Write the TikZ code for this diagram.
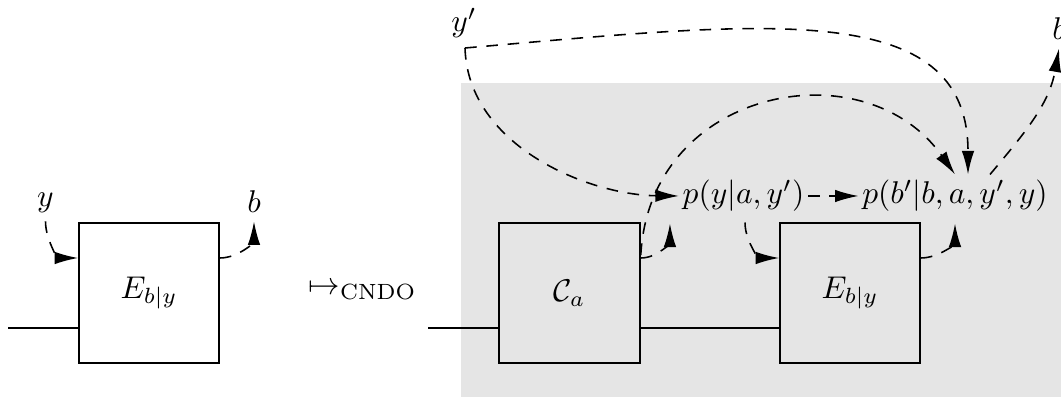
\documentclass[tikz,border=0pt]{standalone}
\usepackage{amsmath}
\usetikzlibrary{arrows.meta,calc}
\begin{document}
\begin{tikzpicture}[x=0.318pt,y=0.318pt,
  box/.style={draw,line width=0.5pt,minimum width={140*0.318pt},minimum height={140*0.318pt},inner sep=0pt},
  lab/.style={inner sep=2.5pt},
  expr/.style={inner sep=1pt},
  flow/.style={dash pattern=on 3.7pt off 3.1pt,line width=0.5pt,-{Latex[length=7.5pt,width=4pt]}},
  wire/.style={line width=0.5pt}]
\useasboundingbox (0,0) rectangle (1061,397);
\fill[gray!20] (461,0) rectangle (1061,314);
% left part
\node[box] (E1) at (149,104) {$E_{b|y}$};
\node[lab] (y) at (45.5,194) {$y$};
\node[lab] (b1) at (254,195) {$b$};
\coordinate (w0) at (8,69);
\draw[wire] (w0) -- (w0 -| E1.west);
\draw[flow] (y.south) to[out=-90,in=180] ($(E1.west)+(0,35)$);
\draw[flow] ($(E1.east)+(0,35)$) to[out=0,in=-90] (b1.south);
\node[anchor=base west,inner sep=0pt] (map) at (308,102) {$\mapsto_{\mathrm{CNDO}}$};
% right part
\node[box,minimum width={141*0.318pt}] (Ca) at (569.5,104) {$\mathcal{C}_a$};
\node[box] (E2) at (850,104) {$E_{b|y}$};
\coordinate (w1) at (428,69);
\draw[wire] (w1) -- (w1 -| Ca.west);
\draw[wire] (w1 -| Ca.east) -- (w1 -| E2.west);
\node[expr] (py) at (743.5,201) {$p(y|a,y')$};
\node[expr] (pb) at (955,201) {$p(b'|b,a,y',y)$};
\node[lab,anchor=base] (yp) at (464,365) {$y'$};
\node[lab] (b2) at (1059,368) {$b$};
\coordinate (c0) at (465,349);
\draw[flow] (py.east) -- (pb.west);
\draw[flow] (c0) .. controls (765,375) and (968,400) .. ($(pb.north)+(13,2)$);
\draw[flow] (c0) .. controls (468,250) and (590,202) .. (py.west);
\draw[flow] ($(Ca.east)+(0,35)$) to[out=0,in=-90] ($(py.south west)+(-9,-8)$);
\draw[flow] ($(Ca.east)+(0,38)$) .. controls (650,310) and (865,350) .. ($(pb.north)+(0,2)$);
\draw[flow] ($(py.south)+(1.5,-7)$) to[out=-90,in=180] ($(E2.west)+(0,35)$);
\draw[flow] ($(E2.east)+(0,35)$) to[out=0,in=-90] ($(pb.south)+(0,-8)$);
\draw[flow] ($(pb.north)+(35,2)$) to[out=50,in=-100] (b2.south);
\end{tikzpicture}
\end{document}
